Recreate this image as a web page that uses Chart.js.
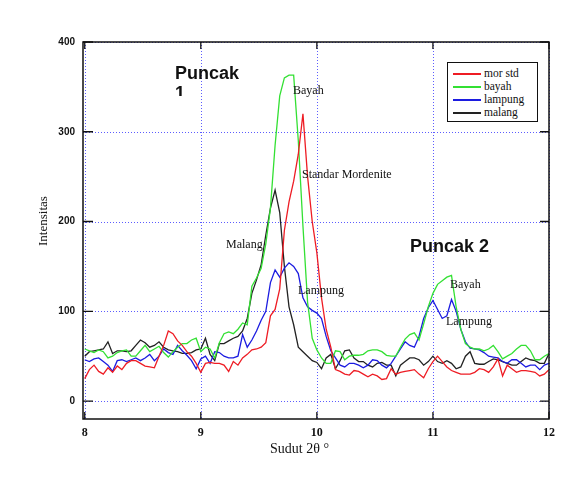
<!DOCTYPE html>
<html lang="id">
    <head>
        <meta charset="UTF-8">
        <style>
            body {
                margin: 0;
                background-color: #ffffff;
            }

            #wrap {
                position: relative;
                width: 586px;
                height: 478px;
            }

            .note {
                position: absolute;
                font-family: "Liberation Serif", serif;
                font-size: 12px;
                line-height: 12px;
                color: #111;
                white-space: nowrap;
            }

            .big {
                position: absolute;
                font-family: "Liberation Sans", Arial, sans-serif;
                font-weight: bold;
                font-size: 18px;
                line-height: 20px;
                color: #111;
                white-space: nowrap;
            }

            #legend {
                position: absolute;
                left: 447px;
                top: 62px;
                width: 89px;
                height: 58px;
                border: 1px solid #111;
                background: #fff;
                font-family: "Liberation Serif", serif;
                font-size: 11.5px;
                color: #111;
            }

            #legend div {
                position: absolute;
                left: 5px;
                height: 12px;
                line-height: 12px;
                white-space: nowrap;
            }

            #legend span {
                display: inline-block;
                width: 28px;
                height: 2px;
                vertical-align: middle;
                margin-right: 3px;
            }
        </style>
        <title>Sudut 2θ</title>
    </head>
    <body>
        <div id="wrap">
            <canvas id="myChart" width="586" height="478"></canvas>

            <!--axis titles-->
            <div class="note" style="left:0;top:0;font-size:13px;line-height:13px;transform-origin:0 0;transform:translate(36px,246px) rotate(-90deg);">Intensitas</div>
            <div class="note" style="left:270px;top:442px;font-size:14px;line-height:14px;">Sudut 2θ °</div>

            <!--annotations-->
            <div class="big" style="left:175px;top:63px;height:33px;overflow:hidden;">Puncak<br>1</div>
            <div class="big" style="left:410px;top:236px;">Puncak 2</div>
            <div class="note" style="left:293px;top:84px;">Bayah</div>
            <div class="note" style="left:302px;top:168px;">Standar Mordenite</div>
            <div class="note" style="left:226px;top:238px;">Malang</div>
            <div class="note" style="left:298px;top:284px;">Lampung</div>
            <div class="note" style="left:450px;top:278px;">Bayah</div>
            <div class="note" style="left:446px;top:315px;">Lampung</div>

            <div id="legend"></div>
        </div>

        <script src="https://cdn.jsdelivr.net/npm/chart.js"></script>
        <script>
            //definition of variables

            let angles = [8.00, 8.04, 8.08, 8.12, 8.16, 8.20, 8.24, 8.28, 8.32, 8.36,
                          8.40, 8.44, 8.48, 8.52, 8.56, 8.60, 8.64, 8.68, 8.72, 8.76,
                          8.80, 8.84, 8.88, 8.92, 8.96, 9.00, 9.04, 9.08, 9.12, 9.16,
                          9.20, 9.24, 9.28, 9.32, 9.36, 9.40, 9.44, 9.48, 9.52, 9.56,
                          9.60, 9.64, 9.68, 9.72, 9.76, 9.80, 9.84, 9.88, 9.92, 9.96,
                          10.00, 10.04, 10.08, 10.12, 10.16, 10.20, 10.24, 10.28, 10.32, 10.36,
                          10.40, 10.44, 10.48, 10.52, 10.56, 10.60, 10.64, 10.68, 10.72, 10.76,
                          10.80, 10.84, 10.88, 10.92, 10.96, 11.00, 11.04, 11.08, 11.12, 11.16,
                          11.20, 11.24, 11.28, 11.32, 11.36, 11.40, 11.44, 11.48, 11.52, 11.56,
                          11.60, 11.64, 11.68, 11.72, 11.76, 11.80, 11.84, 11.88, 11.92, 11.96,
                          12.00];       //sudut 2 theta

            let morStd = [25, 35, 40, 33, 30, 37, 32, 39, 35, 42,
                          45, 45, 42, 39, 38, 37, 50, 62, 78, 75,
                          67, 62, 55, 50, 42, 32, 42, 43, 42, 42,
                          40, 33, 44, 40, 48, 52, 57, 58, 60, 65,
                          95, 102, 125, 190, 222, 245, 275, 320, 250, 200,
                          165, 115, 80, 60, 35, 33, 30, 29, 34, 33,
                          30, 27, 30, 28, 24, 25, 36, 30, 32, 33,
                          34, 35, 30, 26, 36, 44, 50, 44, 38, 34,
                          32, 30, 30, 30, 32, 36, 35, 32, 38, 47,
                          28, 40, 36, 32, 34, 34, 33, 32, 28, 30,
                          35];

            let bayah = [58, 56, 54, 57, 55, 48, 50, 54, 56, 57,
                         50, 50, 56, 62, 55, 58, 61, 54, 49, 55,
                         60, 64, 64, 68, 70, 55, 60, 58, 48, 65,
                         75, 77, 75, 80, 87, 85, 128, 137, 148, 175,
                         215, 285, 340, 360, 363, 363, 290, 195, 110, 70,
                         57, 48, 42, 42, 56, 55, 46, 50, 51, 51,
                         52, 56, 57, 57, 55, 51, 50, 50, 60, 69,
                         74, 76, 68, 86, 105, 120, 130, 134, 138, 140,
                         105, 80, 64, 60, 58, 58, 56, 58, 62, 55,
                         47, 50, 53, 58, 62, 62, 56, 46, 46, 50,
                         53];

            let lampung = [46, 44, 47, 48, 44, 40, 33, 45, 46, 44,
                           46, 48, 45, 48, 52, 45, 50, 58, 54, 52,
                           62, 56, 51, 45, 36, 47, 50, 42, 55, 54,
                           50, 48, 48, 50, 74, 60, 68, 78, 90, 100,
                           132, 146, 138, 148, 154, 150, 142, 115, 105, 101,
                           98, 92, 72, 56, 48, 40, 38, 42, 42, 40,
                           37, 40, 46, 45, 40, 37, 42, 50, 58, 66,
                           62, 60, 72, 92, 104, 112, 102, 92, 95, 113,
                           100, 80, 66, 59, 58, 57, 54, 50, 49, 48,
                           44, 42, 46, 46, 42, 38, 40, 40, 35, 40,
                           42];

            let malang = [50, 55, 56, 57, 58, 66, 53, 56, 56, 55,
                          56, 62, 68, 65, 60, 62, 66, 60, 57, 56,
                          55, 53, 53, 54, 57, 58, 70, 52, 45, 64,
                          64, 67, 70, 72, 78, 92, 120, 135, 152, 185,
                          215, 235, 210, 150, 105, 85, 60, 55, 50, 45,
                          43, 36, 48, 52, 36, 45, 56, 57, 48, 44,
                          44, 40, 38, 42, 43, 40, 40, 28, 40, 44,
                          48, 48, 46, 40, 44, 50, 44, 42, 45, 42,
                          36, 38, 50, 55, 42, 41, 41, 44, 47, 46,
                          44, 42, 40, 40, 44, 48, 46, 45, 42, 42,
                          53];

            let seriesNames = ['mor std', 'bayah', 'lampung', 'malang'];
            let seriesValues = [morStd, bayah, lampung, malang];
            let lineColors = ['#ee1c24', '#33e033', '#1c1ce0', '#222222'];

            let xTicks = [8, 9, 10, 11, 12];
            let yTicks = [0, 100, 200, 300, 400];

            //datasets from the arrays above
            let datasets = seriesNames.map((name, k) => ({
                label: name,
                data: angles.map((a, i) => ({x: a, y: seriesValues[k][i]})),
                borderColor: lineColors[k],
                borderWidth: 1.3,
                pointRadius: 0,
                tension: 0,
                fill: false
            }));

            //html legend
            let legend = document.getElementById('legend');
            seriesNames.forEach((name, k) => {
                let row = document.createElement('div');
                row.style.top = (4 + k * 13) + 'px';
                row.innerHTML = '<span style="background:' + lineColors[k] + '"></span>' + name;
                legend.appendChild(row);
            });

            //dotted grid, frame and inward tick marks
            const framePlugin = {
                id: 'frame',
                beforeDatasetsDraw(chart) {
                    const {ctx, chartArea: a, scales} = chart;
                    ctx.save();
                    ctx.strokeStyle = '#5c5cff';
                    ctx.lineWidth = 1;
                    ctx.setLineDash([1, 2]);
                    ctx.beginPath();
                    yTicks.forEach(v => {
                        const y = Math.round(scales.y.getPixelForValue(v)) + 0.5;
                        ctx.moveTo(a.left, y); ctx.lineTo(a.right, y);
                    });
                    xTicks.forEach(v => {
                        const x = Math.round(scales.x.getPixelForValue(v)) + 0.5;
                        ctx.moveTo(x, a.top); ctx.lineTo(x, a.bottom);
                    });
                    ctx.stroke();
                    ctx.restore();
                },
                afterDatasetsDraw(chart) {
                    const {ctx, chartArea: a, scales} = chart;
                    ctx.save();
                    ctx.strokeStyle = '#111';
                    ctx.lineWidth = 1.5;
                    ctx.strokeRect(a.left, a.top, a.right - a.left, a.bottom - a.top);
                    ctx.lineWidth = 1.3;
                    ctx.beginPath();
                    yTicks.forEach(v => {
                        const y = scales.y.getPixelForValue(v);
                        ctx.moveTo(a.left, y); ctx.lineTo(a.left + 10, y);
                        ctx.moveTo(a.right, y); ctx.lineTo(a.right - 9, y);
                    });
                    xTicks.forEach(v => {
                        const x = scales.x.getPixelForValue(v);
                        ctx.moveTo(x, a.bottom); ctx.lineTo(x, a.bottom - 7);
                        ctx.moveTo(x, a.top); ctx.lineTo(x, a.top + 7);
                    });
                    ctx.stroke();
                    ctx.restore();
                }
            };

            const config = {
                type: 'line',
                data: { datasets },
                options: {
                    responsive: false,
                    animation: false,
                    layout: {
                        padding: { top: 42, right: 37, left: 0, bottom: 0 }
                    },
                    scales: {
                        x: {
                            type: 'linear',
                            min: 7.985,
                            max: 12,
                            afterBuildTicks: s => { s.ticks = xTicks.map(v => ({value: v})); },
                            afterFit: s => { s.height = 59; },
                            grid: { display: false, drawTicks: false },
                            border: { display: false },
                            ticks: {
                                padding: 7,
                                color: '#111',
                                font: { family: 'Liberation Serif', size: 12, weight: 'bold' }
                            }
                        },
                        y: {
                            min: -20,
                            max: 400,
                            afterBuildTicks: s => { s.ticks = yTicks.map(v => ({value: v})); },
                            afterFit: s => { s.width = 83; },
                            grid: { display: false, drawTicks: false },
                            border: { display: false },
                            ticks: {
                                padding: 8,
                                color: '#111',
                                font: { family: 'Liberation Sans', size: 10, weight: 'bold' }
                            }
                        }
                    },
                    plugins: {
                        legend: { display: false },
                        tooltip: { enabled: false }
                    }
                },
                plugins: [framePlugin]
            };

            //rendering of chart
            const myChart = new Chart(document.getElementById('myChart'), config);
        </script>
    </body>
</html>
